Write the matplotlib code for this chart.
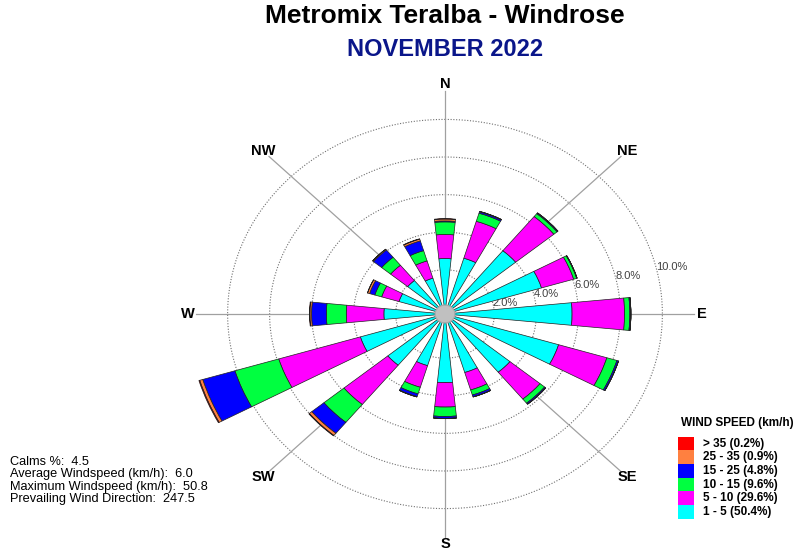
import numpy as np
import matplotlib.pyplot as plt
from matplotlib.patches import Rectangle

plt.rcParams['font.family'] = ['Liberation Sans', 'DejaVu Sans']

W, H = 798, 556

directions = ['N', 'NNE', 'NE', 'ENE', 'E', 'ESE', 'SE', 'SSE',
              'S', 'SSW', 'SW', 'WSW', 'W', 'WNW', 'NW', 'NNW']
compass_labels = ['N', 'NE', 'E', 'SE', 'S', 'SW', 'W', 'NW']

speed_bins = ['1 - 5', '5 - 10', '10 - 15', '15 - 25', '25 - 35', '> 35']
bin_share = [50.4, 29.6, 9.6, 4.8, 0.9, 0.2]
bin_colors = ['#00ffff', '#ff00ff', '#00ff40', '#0000ff', '#ff8040', '#ff0000']

# frequency (%) per direction for each speed class
freq_1_5 = [2.60, 2.75, 4.00, 4.45, 5.70, 5.30, 3.65, 2.90,
            3.30, 2.52, 3.17, 3.86, 2.56, 1.94, 1.95, 1.64]
freq_5_10 = [1.28, 2.05, 2.35, 1.60, 2.50, 2.40, 1.85, 0.97,
             1.30, 1.20, 2.70, 4.06, 1.79, 0.86, 1.05, 0.96]
freq_10_15 = [0.67, 0.45, 0.20, 0.15, 0.25, 0.50, 0.28, 0.28,
              0.50, 0.37, 1.23, 2.18, 0.95, 0.34, 0.55, 0.57]
freq_15_25 = [0.05, 0.08, 0.05, 0.02, 0.05, 0.08, 0.07, 0.10,
              0.10, 0.15, 0.75, 1.60, 0.70, 0.26, 0.50, 0.54]
freq_25_35 = [0.10, 0.02, 0.00, 0.00, 0.00, 0.00, 0.00, 0.01,
              0.01, 0.02, 0.15, 0.15, 0.08, 0.10, 0.05, 0.10]
freq_35_up = [0.02, 0.00, 0.00, 0.00, 0.00, 0.00, 0.00, 0.00,
              0.00, 0.00, 0.03, 0.04, 0.02, 0.01, 0.01, 0.02]

ring_values = [2, 4, 6, 8, 10]

stats_lines = ['Calms %:  4.5',
               'Average Windspeed (km/h):  6.0',
               'Maximum Windspeed (km/h):  50.8',
               'Prevailing Wind Direction:  247.5']

title = 'Metromix Teralba - Windrose'
subtitle = 'NOVEMBER 2022'

# -----------------------------------------------------------------------------
fig = plt.figure(figsize=(W / 100, H / 100), dpi=100, facecolor='white')

cx, cy = 445, 314
half_w, half_h = 259.4, 232.2
ax = fig.add_axes([(cx - half_w) / W, (H - cy - half_h) / H,
                   2 * half_w / W, 2 * half_h / H], projection='polar')
ax.set_aspect('auto')
ax.set_theta_zero_location('N')
ax.set_theta_direction(-1)
ax.set_rorigin(-0.35)
ax.set_rlim(0, 12)
ax.set_xticks([])
ax.set_yticks([])
ax.grid(False)
for sp in ax.spines.values():
    sp.set_visible(False)
ax.patch.set_facecolor('white')

theta = np.deg2rad(np.arange(len(directions)) * 22.5)
width = np.deg2rad(11.4)

# rings and radial lines
full = np.linspace(0, 2 * np.pi, 361)
for r in ring_values:
    ax.plot(full, np.full_like(full, r), color='#707070', lw=0.8,
            ls=(0, (1, 1.5)), zorder=1)
for i, lab in enumerate(compass_labels):
    t = np.deg2rad(i * 45)
    ax.plot([t, t], [0, 11.5], color='#a0a0a0', lw=0.9, zorder=1)
    ax.text(t, 11.9, lab, ha='center', va='center', fontsize=10.5,
            fontweight='bold', clip_on=False)

for r in ring_values:
    ax.text(np.deg2rad(76), r, '%.1f%%' % r, ha='left', va='center',
            fontsize=8, color='#404040', zorder=1.5)

# stacked bars
series = [freq_1_5, freq_5_10, freq_10_15, freq_15_25, freq_25_35, freq_35_up]
bottom = np.zeros(len(directions))
for vals, col in zip(series, bin_colors):
    vals = np.array(vals)
    ax.bar(theta, vals, width=width, bottom=bottom, color=col,
           edgecolor='#202020', linewidth=0.5, zorder=2)
    bottom += vals

# calms circle (not clipped: the axes patch has a hole at the origin)
ax.fill(full, np.full_like(full, 0.12), facecolor='#c0c0c0',
        edgecolor='#a8a8a8', lw=0.8, zorder=4, clip_on=False)

# titles
fig.text(cx / W, 1 - 16 / H, title, ha='center', va='center',
         fontsize=19, fontweight='bold')
fig.text(cx / W, 1 - 50 / H, subtitle, ha='center', va='center',
         fontsize=17, fontweight='bold', color='#0a168a')

# stats
for i, line in enumerate(stats_lines):
    fig.text(10 / W, 1 - (462 + 12.4 * i) / H, line, ha='left',
             va='center', fontsize=9.2)

# legend
fig.text(681 / W, 1 - 423 / H, 'WIND SPEED (km/h)', ha='left', va='center',
         fontsize=8.5, fontweight='bold')
for i in range(len(speed_bins)):
    k = len(speed_bins) - 1 - i
    yc = 443.5 + 13.7 * i
    fig.add_artist(Rectangle((678 / W, 1 - (yc + 7) / H), 16 / W, 14 / H,
                             transform=fig.transFigure,
                             facecolor=bin_colors[k], edgecolor='none'))
    fig.text(703 / W, 1 - yc / H, '%s (%.1f%%)' % (speed_bins[k], bin_share[k]),
             ha='left', va='center', fontsize=8.5, fontweight='bold')

fig.savefig('out.png', dpi=100, facecolor='white')
